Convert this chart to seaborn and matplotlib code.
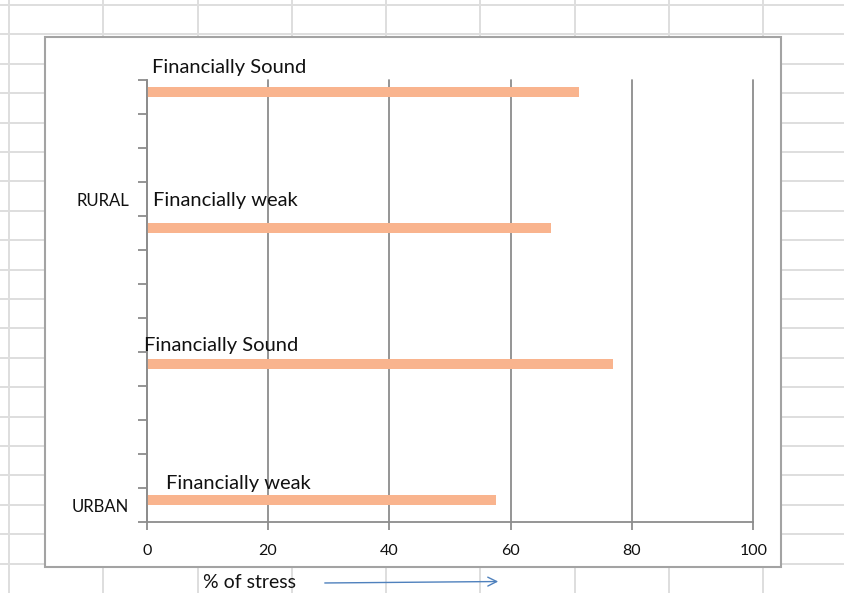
import numpy as np
import pandas as pd
import matplotlib
matplotlib.use("Agg")
import matplotlib.pyplot as plt
from matplotlib.patches import Rectangle
import seaborn as sns

# ---------------- data ----------------
row_labels = ["", "", "", "RURAL", "", "", "", "", "", "", "", "", "URBAN"]
bar_rows = [0, 4, 8, 12]
bar_names = ["Financially Sound", "Financially weak", "Financially Sound", "Financially weak"]
stress = [71.3, 66.6, 76.8, 57.6]
x_ticks = [0, 20, 40, 60, 80, 100]
x_label = "% of stress"

# ---------------- layout / style ----------------
label_dx = [0.82, 0.99, -0.4, 3.18]      # text offsets (data units)
label_dy = [-0.70, -0.79, -0.54, -0.46]  # baseline offsets (row units)
BAR = "#F9B48E"
AXC = "#8c8c8c"
SHEET = "#dedede"

sns.set_theme(style="white")
plt.rcParams["font.family"] = ["Lato", "DejaVu Sans"]

W, H = 844, 593
fig = plt.figure(figsize=(W / 100, H / 100), dpi=100, facecolor="white")

# spreadsheet background
bg = fig.add_axes([0, 0, 1, 1], zorder=0)
bg.set_xlim(0, W)
bg.set_ylim(H, 0)
bg.axis("off")
for gx in np.arange(9, W, 94.25):
    bg.axvline(gx, color=SHEET, lw=1.4, zorder=1)
for gy in np.arange(5, H, 29.4):
    bg.axhline(gy, color=SHEET, lw=1.4, zorder=1)
bg.add_patch(Rectangle((45, 37), 736, 530, facecolor="white", edgecolor="#a3a3a3", lw=1.5, zorder=3))

bg.text(203, 587.5, x_label, fontsize=14, color="#111111", va="baseline", ha="left", zorder=4)
bg.annotate("", xy=(501, 581.5), xytext=(322, 583),
            arrowprops=dict(arrowstyle="->", color="#4F81BD", lw=1.0, mutation_scale=16), zorder=4)

# chart
ax = fig.add_axes([146.7 / W, 1 - 522 / H, 606.6 / W, 442 / H], zorder=1)
df = pd.DataFrame({"row": bar_rows, "stress": stress, "series": ["stress"] * len(stress)})
sns.barplot(data=df, x="stress", y="row", hue="series", hue_order=["stress", "blank"],
            order=list(range(len(row_labels))), orient="h", width=0.58, dodge=True,
            palette={"stress": BAR, "blank": BAR}, saturation=1, linewidth=0,
            legend=False, ax=ax)

ax.set_xlim(0, 100)
ax.set_ylim(len(row_labels) - 0.5, -0.5)
ax.set_xticks(x_ticks)
ax.set_xticklabels([str(t) for t in x_ticks])
ax.set_xlabel("")
ax.set_ylabel("")
ax.set_facecolor("none")
ax.set_axisbelow(True)
ax.xaxis.grid(True, color=AXC, lw=1.3)
ax.yaxis.grid(False)
for gl in ax.xaxis.get_gridlines():
    gl.set_clip_on(False)
for s in ["top", "right"]:
    ax.spines[s].set_visible(False)
for s in ["left", "bottom"]:
    ax.spines[s].set_color(AXC)
    ax.spines[s].set_linewidth(1.3)

ax.set_yticks(np.arange(-0.5, len(row_labels), 1))
ax.set_yticklabels([])
ax.set_yticks(np.arange(len(row_labels)), minor=True)
ax.set_yticklabels(row_labels, minor=True)
ax.tick_params(axis="y", which="major", left=True, direction="out", length=6.5, width=1.3, color=AXC)
ax.tick_params(axis="y", which="minor", left=True, length=0, pad=12.5, labelsize=12, labelcolor="#111111")
ax.tick_params(axis="x", which="major", bottom=True, direction="out", length=6, width=1.3, color=AXC,
               pad=9.5, labelsize=11.5, labelcolor="#111111")

for r, name, dx, dy in zip(bar_rows, bar_names, label_dx, label_dy):
    ax.text(dx, r + dy, name, fontsize=14.5, color="#111111", ha="left", va="baseline", clip_on=False)

fig.savefig("out.png", dpi=100, facecolor="white")
